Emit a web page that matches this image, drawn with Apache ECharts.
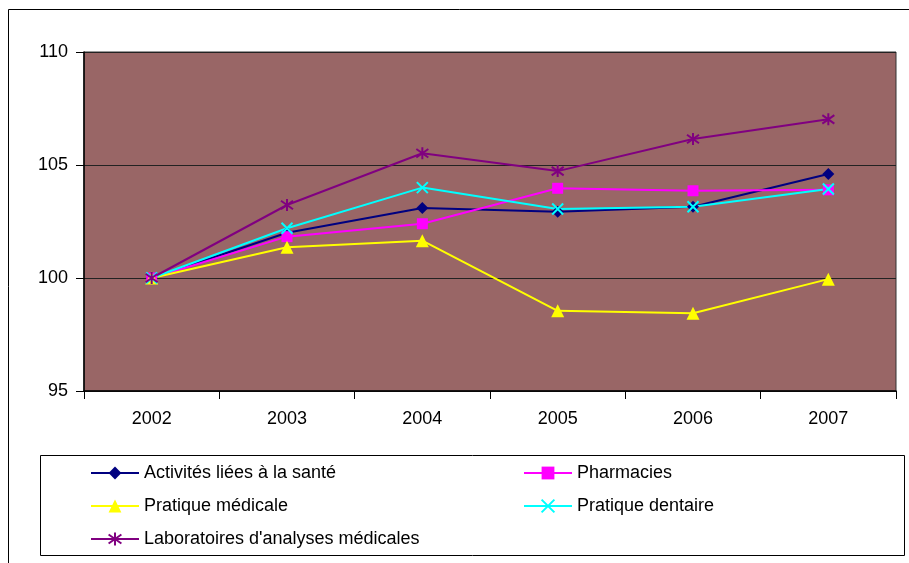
<!DOCTYPE html>
<html><head><meta charset="utf-8">
<script src="https://cdn.jsdelivr.net/npm/echarts@6/dist/echarts.min.js"></script>
<style>html,body{margin:0;padding:0;background:#fff}#c{width:909px;height:563px}</style>
</head><body><div id="c"></div>
<script>
const years = ['2002','2003','2004','2005','2006','2007'];
const activites = [100, 102.0, 103.1, 102.93, 103.15, 104.6];
const pharmacies = [100, 101.83, 102.4, 103.97, 103.86, 103.9];
const pratiqueMedicale = [100, 101.36, 101.65, 98.55, 98.44, 99.95];
const pratiqueDentaire = [100, 102.2, 104.0, 103.05, 103.15, 103.94];
const laboratoires = [100, 103.23, 105.52, 104.73, 106.15, 107.02];
const names = ['Activités liées à la santé','Pharmacies','Pratique médicale','Pratique dentaire',"Laboratoires d'analyses médicales"];

const font = 'Liberation Sans, Arial, sans-serif';
const star = 'path://M10,0L10,20M2.9,2.9L17.1,17.1M2.9,17.1L17.1,2.9';
const cross = 'path://M0,0L10,10M0,10L10,0';

function s(name, data, color, symbol, size, stroke) {
  return {
    name, type: 'line', data, symbol, symbolSize: size,
    lineStyle: { color, width: 2 },
    itemStyle: stroke ? { color, borderColor: color, borderWidth: 2 } : { color, borderWidth: 0 },
    emphasis: { disabled: true }, animation: false, z: 3
  };
}

const legendText = { color: '#000', fontFamily: font, fontSize: 18 };
const chart = echarts.init(document.getElementById('c'));
chart.setOption({
  backgroundColor: '#fff',
  animation: false,
  grid: { left: 84, top: 52, right: 13, bottom: 172, show: true, backgroundColor: '#996666', borderColor: '#333', borderWidth: 1 },
  xAxis: {
    type: 'category', data: years, boundaryGap: true,
    axisLine: { lineStyle: { color: '#000', width: 1.5 } },
    axisTick: { show: true, length: 8, lineStyle: { color: '#000' } },
    axisLabel: { color: '#000', fontFamily: font, fontSize: 18, margin: 19 },
    splitLine: { show: false }
  },
  yAxis: {
    type: 'value', min: 95, max: 110, interval: 5,
    axisLine: { show: true, lineStyle: { color: '#000', width: 1.5 } },
    axisTick: { show: true, length: 8, lineStyle: { color: '#000' } },
    axisLabel: { color: '#000', fontFamily: font, fontSize: 18, margin: 16 },
    splitLine: { show: true, lineStyle: { color: '#222', width: 1 } }
  },
  legend: [
    { data: [names[0], names[2], names[4]], orient: 'vertical', left: 85, top: 459, itemWidth: 48, itemHeight: 16, itemGap: 15, selectedMode: false,
      textStyle: legendText },
    { data: [names[1], names[3]], orient: 'vertical', left: 518, top: 459, itemWidth: 48, itemHeight: 16, itemGap: 15, selectedMode: false,
      textStyle: legendText }
  ],
  graphic: [
    { type: 'rect', shape: { x: 8.5, y: 9.5, width: 1000, height: 1000 }, style: { fill: 'none', stroke: '#000', lineWidth: 1 }, z: -1, silent: true },
    { type: 'rect', shape: { x: 40.5, y: 455.5, width: 864, height: 100 }, style: { fill: 'none', stroke: '#000', lineWidth: 1 }, z: -1, silent: true }
  ],
  series: [
    s(names[0], activites, '#000080', 'diamond', 12, false),
    s(names[1], pharmacies, '#FF00FF', 'rect', 11, false),
    s(names[2], pratiqueMedicale, '#FFFF00', 'triangle', 13, false),
    s(names[3], pratiqueDentaire, '#00FFFF', cross, 11, true),
    s(names[4], laboratoires, '#800080', star, 12, true)
  ]
});
</script></body></html>
